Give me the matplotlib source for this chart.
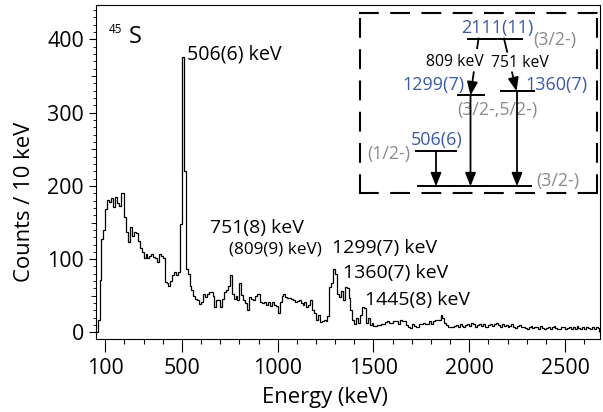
import numpy as np
import matplotlib
matplotlib.use("Agg")
import matplotlib.pyplot as plt
from matplotlib.ticker import MultipleLocator, FixedLocator, NullFormatter

plt.rcParams['font.family'] = ['Open Sans', 'DejaVu Sans']

# ---------------- data ----------------
bin_start_kev = 50
bin_width_kev = 10
counts_050_390 = [1, 17, 71, 128, 140, 168, 181, 178, 183, 171,
                  185, 176, 172, 191, 190, 157, 137, 123, 144, 132,
                  137, 136, 125, 115, 110, 101, 107, 101, 104, 107,
                  103, 101, 96, 107, 104]
counts_400_1040 = [101, 69, 67, 64, 70, 78, 82, 79, 82, 148,
                   376, 221, 87, 80, 64, 58, 50, 46, 44, 39,
                   41, 53, 48, 52, 55, 55, 50, 35, 44, 44,
                   35, 46, 55, 58, 64, 78, 53, 46, 50, 44,
                   67, 51, 44, 40, 30, 48, 46, 44, 50, 53,
                   53, 42, 40, 42, 38, 41, 36, 42, 38, 36,
                   27, 41, 50, 52, 49]
counts_1050_1580 = [47, 47, 46, 44, 42, 43, 44, 40, 38, 42,
                    35, 38, 44, 31, 26, 17, 24, 14, 15, 17,
                    15, 22, 62, 67, 87, 80, 53, 49, 56, 44,
                    62, 60, 47, 31, 17, 12, 20, 13, 24, 35,
                    33, 13, 20, 10, 13, 9, 9, 10, 10, 12,
                    11, 14, 15, 13]
counts_1590_1890 = [13, 16, 16, 15, 12, 17, 15, 15, 10, 8,
                    6, 12, 9, 8, 7, 11, 12, 13, 12, 11,
                    15, 12, 16, 17, 17, 17, 24, 19, 13, 10,
                    8]
counts_1900_2670 = [8, 7, 9, 10, 8, 11, 9, 7, 10, 12,
                    9, 13, 11, 8, 10, 12, 9, 11, 8, 7,
                    10, 12, 9, 11, 13, 10, 8, 12, 9, 10,
                    7, 9, 11, 8, 6, 9, 10, 7, 8, 6,
                    5, 7, 9, 6, 8, 7, 5, 9, 6, 4,
                    6, 8, 5, 7, 9, 6, 5, 4, 7, 8,
                    5, 6, 8, 4, 7, 5, 9, 6, 5, 7,
                    4, 8, 6, 5, 7, 5, 8, 6]

peak_labels = ['506(6) keV', '751(8) keV', '(809(9) keV)',
               '1299(7) keV', '1360(7) keV', '1445(8) keV']

x_major_ticks = [100, 500, 1000, 1500, 2000, 2500]

# level scheme of 45S
level_energies = [0, 506, 1299, 1360, 2111]
level_names = ['', '506(6)', '1299(7)', '1360(7)', '2111(11)']
level_spins = ['(3/2-)', '(1/2-)', '', '', '(3/2-)']
gamma_from = [506, 1299, 1360, 2111, 2111]
gamma_to = [0, 0, 0, 1299, 1360]
gamma_labels = ['', '', '', '809 keV', '751 keV']

counts = np.array(counts_050_390 + counts_400_1040 + counts_1050_1580
                  + counts_1590_1890 + counts_1900_2670, dtype=float)
edges = bin_start_kev + bin_width_kev * np.arange(len(counts) + 1)

# ---------------- figure ----------------
W, H, DPI = 603, 412, 100
fig = plt.figure(figsize=(W / DPI, H / DPI), dpi=DPI)


def fx(px):
    return px / W


def fy(py):
    return 1 - py / H


ax_l, ax_r, ax_t, ax_b = 95.7, 599.5, 5.0, 339.0
ax = fig.add_axes([fx(ax_l), fy(ax_b), (ax_r - ax_l) / W, (ax_b - ax_t) / H])
ax.stairs(counts, edges, color='black', lw=0.9, baseline=0)
ax.set_xlim(50, 2680)
ax.set_ylim(-9, 447)

ax.xaxis.set_major_locator(FixedLocator(x_major_ticks))
ax.xaxis.set_minor_locator(MultipleLocator(100))
ax.yaxis.set_major_locator(MultipleLocator(100))
ax.yaxis.set_minor_locator(MultipleLocator(10))
ax.tick_params(axis='x', which='major', direction='out', length=9, width=0.8,
               pad=4.5, labelsize=15.4, colors='black')
ax.tick_params(axis='x', which='minor', direction='out', length=3.8, width=0.8)
ax.tick_params(axis='y', which='major', direction='out', length=5, width=0.8,
               pad=3.5, labelsize=15.4)
ax.tick_params(axis='y', which='minor', direction='out', length=2.0, width=0.6)
for s in ax.spines.values():
    s.set_linewidth(0.8)

sec = ax.secondary_yaxis('left')
sec.set_yticks([50, 150, 250, 350])
sec.yaxis.set_major_formatter(NullFormatter())
sec.tick_params(axis='y', length=3.4, width=0.6)
sec.spines['left'].set_visible(False)

ax.set_xlabel('Energy (keV)', fontsize=15.8)
ax.xaxis.label.set_va('baseline')
ax.xaxis.set_label_coords(0.456, -0.1916)
ax.set_ylabel('Counts / 10 keV', fontsize=15.8)
ax.yaxis.label.set_va('center')
ax.yaxis.set_label_coords(-0.1423, 0.410)

# nucleus label
ax.text(117, 421.8, '45', fontsize=8.4, va='top', ha='left')
ax.text(221.5, 394.5, 'S', fontsize=16.8, va='baseline', ha='left')

# peak labels
peak_pos = [(528, 372, 14.1), (648, 136, 14.0), (747, 108, 12.3),
            (1284, 108, 14.0), (1341, 74, 14.0), (1456, 37.5, 14.0)]
for lab, (xe, yc, fs) in zip(peak_labels, peak_pos):
    ax.text(xe, yc, lab, fontsize=fs, va='baseline', ha='left')

# ---------------- inset level scheme ----------------
in_l, in_r, in_t, in_b = 360.0, 597.0, 12.7, 193.0
y0_px, k_px = 186.3, 0.070   # inset: pixel y = y0_px - k_px * E


def e_of_px(py):
    return (y0_px - py) / k_px


ins = fig.add_axes([fx(in_l), fy(in_b), (in_r - in_l) / W, (in_b - in_t) / H])
ins.set_xlim(in_l, in_r)
ins.set_ylim(e_of_px(in_b), e_of_px(in_t))
ins.set_xticks([])
ins.set_yticks([])
ins.set_facecolor('white')
for s in ins.spines.values():
    s.set_linestyle((0, (8.5, 6.5)))
    s.set_linewidth(1.5)
    s.set_color('black')

blue = '#3c5aaa'
gray = '#8a8a8a'
level_x = {0: (417, 532), 506: (415, 457), 1299: (457, 485),
           1360: (500, 535), 2111: (467, 523)}
for E in level_energies:
    x0, x1 = level_x[E]
    ins.plot([x0, x1], [E, E], color='black', lw=1.4, solid_capstyle='butt')

# level labels (positions in pixel offsets from level lines)
pt = 0.72
name_style = {2111: (497, 6.0, 'center'), 1299: (465, 5.0, 'right'),
              1360: (525, 1.5, 'left'), 506: (436.7, 6.0, 'center')}
for E, name in zip(level_energies, level_names):
    if name:
        xx, dy, ha = name_style[E]
        ins.annotate(name, xy=(xx, E), xytext=(0, dy * pt), textcoords='offset points',
                     ha=ha, va='baseline', color=blue, fontsize=13.0)
spin_style = {2111: (533, -1.8, 'left'), 506: (410, -2.7, 'right'),
              0: (536.7, 5.0, 'left')}
for E, sp in zip(level_energies, level_spins):
    if sp:
        xx, dy, ha = spin_style[E]
        ins.annotate(sp, xy=(xx, E), xytext=(0, dy * pt), textcoords='offset points',
                     ha=ha, va='center', color=gray, fontsize=12.8)
ins.annotate('(3/2-,5/2-)', xy=(497.5, 1299), xytext=(0, -15 * pt),
             textcoords='offset points', ha='center', va='center', color=gray,
             fontsize=12.8)

# gamma transitions
gx_start = {(506, 0): 436, (1299, 0): 470.5, (1360, 0): 517,
            (2111, 1299): 478.5, (2111, 1360): 504}
gx_end = {(506, 0): 436, (1299, 0): 470.5, (1360, 0): 517,
          (2111, 1299): 470.5, (2111, 1360): 516.5}
gap = {(2111, 1299): (0.17, 0.59, 455, 62), (2111, 1360): (0.25, 0.64, 520, 63)}
aprops = dict(arrowstyle='-|>,head_length=0.4,head_width=0.16', lw=1.3,
              color='black', shrinkA=0, shrinkB=0, mutation_scale=20)
for Ei, Ef, lab in zip(gamma_from, gamma_to, gamma_labels):
    key = (Ei, Ef)
    xs, xe = gx_start[key], gx_end[key]
    if key in gap:
        f1, f2, tx, ty = gap[key]
        xa = xs + (xe - xs) * f1
        ea = Ei + (Ef - Ei) * f1
        ins.plot([xs, xa], [Ei, ea], color='black', lw=1.3)
        xb = xs + (xe - xs) * f2
        eb = Ei + (Ef - Ei) * f2
        ins.annotate('', xy=(xe, Ef), xytext=(xb, eb), arrowprops=aprops)
        ins.text(tx, e_of_px(ty), lab, ha='center', va='center', fontsize=11.3,
                 color='black')
    else:
        ins.annotate('', xy=(xe, Ef), xytext=(xs, Ei), arrowprops=aprops)

fig.savefig('out.png', dpi=DPI)
